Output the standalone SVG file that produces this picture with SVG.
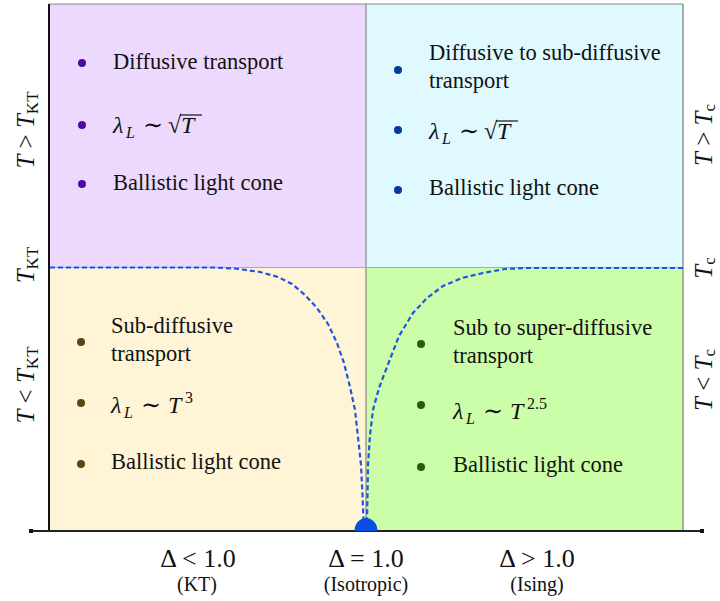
<svg xmlns="http://www.w3.org/2000/svg" width="720" height="601" viewBox="0 0 720 601">
<style>
text{font-family:"Liberation Serif","DejaVu Serif",serif;fill:#111}
.t{font-size:22.5px}
.m{font-size:24px;font-style:italic}
.r{font-size:24px}
.s{font-size:16px;font-style:italic}
.sr{font-size:16px}
.ax{font-size:26px}
.lb{font-size:20px}
.side{font-size:25px}
.sub{font-size:17px}
.bar{stroke:#111;stroke-width:1.2}
</style>
<rect width="720" height="601" fill="#fff"/>
<g id="quadrants">
<rect id="q-tl" x="49" y="4" width="317" height="263" fill="#EDD9FD"/>
<rect id="q-tr" x="366" y="4" width="317" height="264" fill="#E0F9FE"/>
<rect id="q-bl" x="49" y="267" width="317" height="264" fill="#FFF5D6"/>
<rect id="q-br" x="366" y="268" width="317" height="263" fill="#CCFDA8"/>
<line x1="49" y1="4" x2="683" y2="4" stroke="#888" stroke-width="1.2"/>
<line x1="683" y1="4" x2="683" y2="531" stroke="#777" stroke-width="1.2"/>
<line x1="366" y1="4" x2="366" y2="531" stroke="#888" stroke-width="1.2"/>
<line x1="49" y1="267.5" x2="683" y2="267.5" stroke="#aaa" stroke-width="1"/>
<line x1="49" y1="4" x2="49" y2="531" stroke="#111" stroke-width="2"/>
</g>
<g id="connectors">
<path d="M50,267.5 L213,267.5 L235,268.5 L260,272 L278,277 L292,284 L305,295 L317,308 L328,324 L337,343 L344,363 L350,387 L355,410 L358,437 L361,465 L362.5,495 L363.5,520" fill="none" stroke="#1D55E6" stroke-width="2.2" stroke-dasharray="5,3"/>
<path d="M683,268 L527,268 L505,269 L483,273 L462,278 L443,286 L427,298 L413,313 L399,336 L387,367 L379,388 L373,410 L370,435 L368,465 L367.5,495 L367,520" fill="none" stroke="#1D55E6" stroke-width="2.2" stroke-dasharray="5,3"/>
</g>
<g id="axis">
<line x1="31" y1="531" x2="702" y2="531" stroke="#222" stroke-width="2"/>
<rect x="29" y="529" width="4" height="4" fill="#111"/>
<rect x="700" y="529" width="4" height="4" fill="#111"/>
<path d="M354.5,531 A11.5,13 0 0 1 377.5,531 Z" fill="#0A50E0"/>
</g>
<g id="node-tl">
<circle cx="82" cy="63" r="4" fill="#4A0AA8"/>
<circle cx="82" cy="125" r="4" fill="#4A0AA8"/>
<circle cx="82" cy="184" r="4" fill="#4A0AA8"/>
<text class="t" x="113" y="69">Diffusive transport</text>
<text class="m" x="113" y="133">λ</text><text class="s" x="126" y="138">L</text>
<text class="r" x="143" y="133">∼</text><text class="r" x="168" y="133">√</text><text class="m" x="181" y="133">T</text>
<line class="bar" x1="180" y1="115" x2="202" y2="115"/>
<text class="t" x="113" y="190">Ballistic light cone</text>
</g>
<g id="node-tr">
<circle cx="398" cy="70" r="4" fill="#003A9E"/>
<circle cx="398" cy="130" r="4" fill="#003A9E"/>
<circle cx="398" cy="190" r="4" fill="#003A9E"/>
<text class="t" x="429" y="60">Diffusive to sub-diffusive</text>
<text class="t" x="429" y="88">transport</text>
<text class="m" x="429" y="139">λ</text><text class="s" x="442" y="144">L</text>
<text class="r" x="459" y="139">∼</text><text class="r" x="484" y="139">√</text><text class="m" x="497" y="139">T</text>
<line class="bar" x1="496" y1="121" x2="518" y2="121"/>
<text class="t" x="429" y="195">Ballistic light cone</text>
</g>
<g id="node-bl">
<circle cx="81" cy="342" r="4" fill="#5A4510"/>
<circle cx="81" cy="403" r="4" fill="#5A4510"/>
<circle cx="81" cy="464" r="4" fill="#5A4510"/>
<text class="t" x="111" y="333">Sub-diffusive</text>
<text class="t" x="111" y="361">transport</text>
<text class="m" x="111" y="413">λ</text><text class="s" x="124" y="418">L</text>
<text class="r" x="141" y="413">∼</text><text class="m" x="168" y="413">T</text><text class="sr" x="185" y="403">3</text>
<text class="t" x="111" y="469">Ballistic light cone</text>
</g>
<g id="node-br">
<circle cx="421" cy="344" r="4" fill="#2A5A12"/>
<circle cx="421" cy="405" r="4" fill="#2A5A12"/>
<circle cx="421" cy="467" r="4" fill="#2A5A12"/>
<text class="t" x="453" y="335">Sub to super-diffusive</text>
<text class="t" x="453" y="363">transport</text>
<text class="m" x="453" y="419">λ</text><text class="s" x="466" y="424">L</text>
<text class="r" x="483" y="419">∼</text><text class="m" x="510" y="419">T</text><text class="sr" x="527" y="409">2.5</text>
<text class="t" x="453" y="472">Ballistic light cone</text>
</g>
<g id="x-labels" text-anchor="middle">
<text class="ax" x="198" y="567">Δ &lt; 1.0</text>
<text class="lb" x="197" y="591">(KT)</text>
<text class="ax" x="366" y="567">Δ = 1.0</text>
<text class="lb" x="366" y="591">(Isotropic)</text>
<text class="ax" x="537" y="567">Δ &gt; 1.0</text>
<text class="lb" x="537" y="591">(Ising)</text>
</g>
<g id="y-labels-left" text-anchor="middle">
<text class="side" transform="translate(34,130) rotate(-90)"><tspan font-style="italic">T</tspan> &gt; <tspan font-style="italic">T</tspan><tspan class="sub" dy="4">KT</tspan></text>
<text class="side" transform="translate(34,265) rotate(-90)"><tspan font-style="italic">T</tspan><tspan class="sub" dy="4">KT</tspan></text>
<text class="side" transform="translate(34,385) rotate(-90)"><tspan font-style="italic">T</tspan> &lt; <tspan font-style="italic">T</tspan><tspan class="sub" dy="4">KT</tspan></text>
</g>
<g id="y-labels-right" text-anchor="middle">
<text class="side" transform="translate(712,135) rotate(-90)"><tspan font-style="italic">T</tspan> &gt; <tspan font-style="italic">T</tspan><tspan class="sub" dy="3">c</tspan></text>
<text class="side" transform="translate(712,268) rotate(-90)"><tspan font-style="italic">T</tspan><tspan class="sub" dy="3">c</tspan></text>
<text class="side" transform="translate(712,380) rotate(-90)"><tspan font-style="italic">T</tspan> &lt; <tspan font-style="italic">T</tspan><tspan class="sub" dy="3">c</tspan></text>
</g>
</svg>
